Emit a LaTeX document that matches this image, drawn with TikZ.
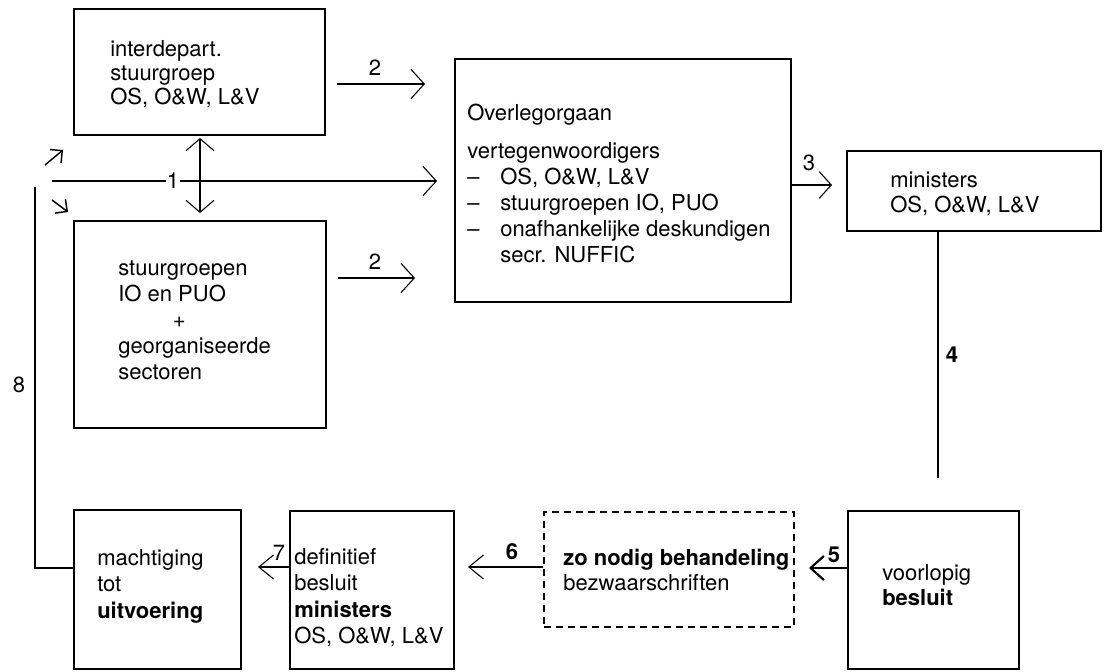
\documentclass[tikz,border=0pt]{standalone}
\usepackage{fontspec}
\setmainfont{TeX Gyre Heros}
\usetikzlibrary{arrows.meta,fit}
\begin{document}
\begin{tikzpicture}[x=0.75pt,y=-0.75pt,
  box/.style={draw, line width=1.1pt, inner sep=0pt},
  dbox/.style={draw, line width=1.2pt, dash pattern=on 5.5pt off 3.5pt, inner sep=0pt},
  txt/.style={anchor=north west, inner sep=0pt, align=left},
  lbl/.style={inner sep=1pt, font=\fontsize{16.5}{19.5}\selectfont},
  con/.style={line width=0.8pt},
  arr/.style={con, -{Straight Barb[length=10pt,width=22pt,line width=0.8pt]}},
  sarr/.style={con, -{Straight Barb[length=11pt,width=18pt,line width=0.8pt]}},
  tarr/.style={line width=1.1pt, -{Straight Barb[length=6.5pt,width=13pt,line width=1.1pt]}},
]
\useasboundingbox[fill=white] (0,0) rectangle (1105,671);

% boxes
\node[box, fit={(74,9) (325,135)}] (A) {};
\node[box, fit={(74,221) (326,428)}] (B) {};
\node[box, fit={(455,59) (791,302)}] (C) {};
\node[box, fit={(847,151) (1101,231)}] (D) {};
\node[box, fit={(848,511) (1019,669)}] (E) {};
\node[dbox, fit={(544,512) (794,627)}] (F) {};
\node[box, fit={(290,511) (454,669)}] (G) {};
\node[box, fit={(74,510) (241,669)}] (H) {};

% texts
\node[txt, font=\fontsize{16.5}{18}\selectfont] (At) at (110,40)
  {interdepart.\\stuurgroep\\OS, O\&W, L\&V};
\node[txt, font=\fontsize{16.5}{19.5}\selectfont] (Bt) at (118,261)
  {stuurgroepen\\IO en PUO\\\hspace*{41pt}+\\georganiseerde\\sectoren};
\node[txt, font=\fontsize{16.5}{19.5}\selectfont] (Ct) at (467,104) {Overlegorgaan};
\node[txt, font=\fontsize{16.5}{19.5}\selectfont] (Cl) at (467,142)
  {vertegenwoordigers\\
   \rlap{--}\hspace*{24.75pt}OS, O\&W, L\&V\\
   \rlap{--}\hspace*{24.75pt}stuurgroepen IO, PUO\\
   \rlap{--}\hspace*{24.75pt}onafhankelijke deskundigen\\
   \hspace*{24.75pt}secr. NUFFIC};
\node[txt, font=\fontsize{16.5}{18.75}\selectfont] (Dt) at (890,172)
  {ministers\\OS, O\&W, L\&V};
\node[txt, font=\fontsize{16.5}{18.75}\selectfont] (Et) at (882,564)
  {voorlopig\\\textbf{besluit}};
\node[txt, font=\fontsize{16.5}{18.75}\selectfont] (Ft) at (563,549)
  {\textbf{zo nodig behandeling}\\bezwaarschriften};
\node[txt, font=\fontsize{16.5}{19.9}\selectfont] (Gt) at (294,548)
  {definitief\\besluit\\\textbf{ministers}\\OS, O\&W, L\&V};
\node[txt, font=\fontsize{16.5}{20}\selectfont] (Ht) at (97,549)
  {machtiging\\tot\\\textbf{uitvoering}};

% connector end points
\coordinate (a2s) at (337,84);  \coordinate (a2e) at (425,84);
\coordinate (b2s) at (338,278); \coordinate (b2e) at (415,278);
\coordinate (l1s) at (52,181);  \coordinate (l1e) at (437,181);
\coordinate (vs) at (200,138);  \coordinate (ve) at (200,213);
\coordinate (c3e) at (832,185);
\coordinate (d4e) at (938,478);
\coordinate (e5) at (809,568);
\coordinate (f6) at (468,567);  \coordinate (f6t) at (507,567);
\coordinate (g7) at (258,567);
\coordinate (h8b) at (35,568);  \coordinate (h8t) at (35,187);
\coordinate (nes) at (45,165);  \coordinate (nee) at (63,150);
\coordinate (ses) at (52,200);  \coordinate (see) at (68,212);

% connectors
\draw[arr] (a2s) -- (a2e);
\draw[arr] (b2s) -- (b2e);
\draw[arr] (l1s) -- (l1e);
\draw[con, {Straight Barb[length=9pt,width=21pt,line width=0.8pt]}-{Straight Barb[length=9pt,width=21pt,line width=0.8pt]}] (vs) -- (ve);
\draw[con, -{Straight Barb[length=9pt,width=20pt,line width=0.8pt]}] (c3e -| C.east) -- (c3e);
\draw[con] (d4e |- D.south) -- (d4e);
\draw[line width=2pt, -{Straight Barb[length=10pt,width=18pt,line width=1.6pt]}] (e5 -| E.west) -- (e5);
\draw[sarr] (f6 -| F.west) -- (f6);
\draw[line width=2pt] (f6t -| F.west) -- (f6t);
\draw[sarr] (g7 -| G.west) -- (g7);
\draw[con] (h8b -| H.west) -- (h8b) -- (h8t);
\draw[tarr] (nes) -- (nee);
\draw[tarr] (ses) -- (see);

% labels
\node[lbl] (n2a) at (375,68) {2};
\node[lbl] (n2b) at (375,262) {2};
\node[lbl, fill=white] (n1) at (173,181) {1};
\node[lbl] (n3) at (809,163) {3};
\node[lbl, font=\fontsize{16.5}{19.5}\selectfont\bfseries] (n4) at (952,355) {4};
\node[lbl, font=\fontsize{16.5}{19.5}\selectfont\bfseries] (n5) at (834,555) {5};
\node[lbl, font=\fontsize{16.5}{19.5}\selectfont\bfseries] (n6) at (512,552) {6};
\node[lbl] (n7) at (279,553) {7};
\node[lbl] (n8) at (19,385) {8};
\end{tikzpicture}
\end{document}
